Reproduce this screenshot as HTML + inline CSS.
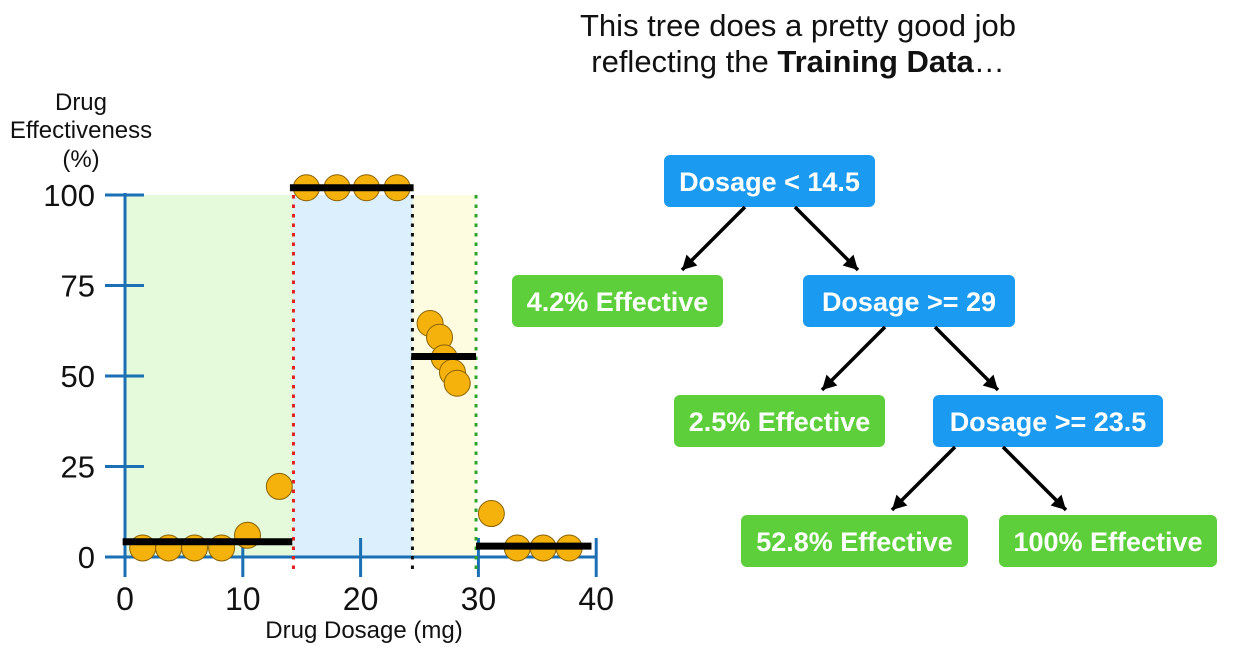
<!DOCTYPE html>
<html><head><meta charset="utf-8"><style>
body{margin:0;width:1235px;height:654px;background:#fff;overflow:hidden;font-family:"Liberation Sans",sans-serif}
svg{position:absolute;left:0;top:0}
</style></head><body>
<svg width="1235" height="654" xmlns="http://www.w3.org/2000/svg">
<g id="chart"></g>
<g id="tree"></g>
</svg>
<script>
const xs=[1.5,3.7,5.9,8.2,10.4,13.1,15.4,18,20.5,23.1,25.9,26.7,27.1,27.8,28.2,31.1,33.3,35.5,37.7];
const ys=[2.5,2.5,2.5,2.5,6,19.5,102,102,102,102,64.5,60.7,55,51,48,12,2.5,2.5,2.5];
const xTicks=[0,10,20,30,40];
const yTicks=[0,25,50,75,100];
const splits=[14.3,24.4,29.8];
const segStart=[-0.2,14.0,24.3,29.8];
const segEnd=[14.2,24.5,29.8,39.6];
const segVal=[4.2,102,55.4,3];
const NS="http://www.w3.org/2000/svg";
const sx=v=>125+v*11.78, sy=v=>557-v*3.62;
const g=document.getElementById('chart');
function mk(t,a,p){const e=document.createElementNS(NS,t);for(const k in a)e.setAttribute(k,a[k]);(p||g).appendChild(e);return e;}
const regionColors=['#e4fadb','#dbeffd','#fdfbe0'];
const bounds=[0].concat(splits);
for(let i=0;i<3;i++){
 const r=mk('rect',{x:sx(bounds[i]),y:sy(100),width:sx(bounds[i+1])-sx(bounds[i]),height:sy(0)-sy(100),fill:regionColors[i]});
 
 
}
mk('line',{x1:sx(0),y1:sy(100)-2,x2:sx(0),y2:577,stroke:'#1a6fb5','stroke-width':3});
mk('line',{x1:sx(0),y1:sy(0),x2:sx(40),y2:sy(0),stroke:'#1a6fb5','stroke-width':3});
yTicks.forEach(v=>{
 mk('line',{x1:105,y1:sy(v),x2:144,y2:sy(v),stroke:'#1a6fb5','stroke-width':3});
 const t=mk('text',{x:95,y:sy(v)+11,'text-anchor':'end','font-size':31,fill:'#111'});t.textContent=v;
 
 
});
xTicks.forEach(v=>{
 if(v>0) mk('line',{x1:sx(v),y1:538,x2:sx(v),y2:577,stroke:'#1a6fb5','stroke-width':3});
 const t=mk('text',{x:sx(v),y:610,'text-anchor':'middle','font-size':32,fill:'#111'});t.textContent=v;
 
 
});
const splitColors=['#e32020','#111','#2aa52a'];
splits.forEach((s,i)=>{
 const l=mk('line',{x1:sx(s),y1:sy(100),x2:sx(s),y2:575,stroke:splitColors[i],'stroke-width':3,'stroke-dasharray':'3.5,6'});
 
 
});
xs.forEach((x,i)=>{
 const c=mk('circle',{cx:sx(x),cy:sy(ys[i]),r:13,fill:'#f5b20d',stroke:'#8a6200','stroke-width':1});
 
 
});
segVal.forEach((v,i)=>{
 const l=mk('line',{x1:sx(segStart[i]),y1:sy(v),x2:sx(segEnd[i]),y2:sy(v),stroke:'#000','stroke-width':7});
 
 
});
[['Drug',110],['Effectiveness',138],['(%)',167]].forEach(([s,y])=>{
 const t=mk('text',{x:81,y:y,'text-anchor':'middle','font-size':24,fill:'#111'});t.textContent=s;
 
 
});
const xt=mk('text',{x:364,y:638,'text-anchor':'middle','font-size':24,fill:'#111'});xt.textContent='Drug Dosage (mg)';


const t1=mk('text',{x:798,y:36,'text-anchor':'middle','font-size':31,fill:'#111'});t1.textContent='This tree does a pretty good job';


const t2=mk('text',{x:798,y:72,'text-anchor':'middle','font-size':31,fill:'#111'});
t2.innerHTML='reflecting the <tspan font-weight="bold">Training Data</tspan>…';


const tg=document.getElementById('tree');
const nodes=[[664,155,211,'#1a9af0','Dosage < 14.5'],[512,275,211,'#5ccf3a','4.2% Effective'],[803,275,212,'#1a9af0','Dosage >= 29'],[674,395,211,'#5ccf3a','2.5% Effective'],[933,395,230,'#1a9af0','Dosage >= 23.5'],[741,515,227,'#5ccf3a','52.8% Effective'],[999,515,218,'#5ccf3a','100% Effective']];
nodes.forEach(n=>{
 const r=mk('rect',{x:n[0],y:n[1],width:n[2],height:52,rx:6,fill:n[3]},tg);
 
 
 const t=mk('text',{x:n[0]+n[2]/2,y:n[1]+36,'text-anchor':'middle','font-size':27,'font-weight':'bold',fill:'#fff'},tg);t.textContent=n[4];
 
 
});
const arrows=[[745,207,682,270],[795,207,858,270],[885,327,822,390],[935,327,998,390],[955,447,892,510],[1003,447,1066,510]];
arrows.forEach(a=>{
 const l=mk('line',{x1:a[0],y1:a[1],x2:a[2],y2:a[3],stroke:'#000','stroke-width':3.5},tg);
 
 
 const ang=Math.atan2(a[3]-a[1],a[2]-a[0]),L=16,w=0.5;
 const p=[a[2],a[3],a[2]-L*Math.cos(ang-w),a[3]-L*Math.sin(ang-w),a[2]-L*Math.cos(ang+w),a[3]-L*Math.sin(ang+w)];
 const h=mk('polygon',{points:p.join(','),fill:'#000'},tg);
 
 
});
</script>
</body></html>
